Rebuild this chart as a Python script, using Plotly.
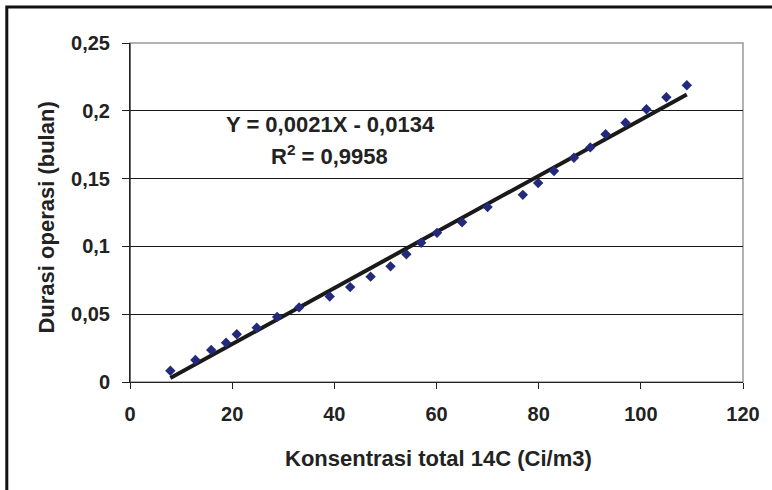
import numpy as np
import plotly.graph_objects as go

x_vals = [7.9, 12.8, 15.9, 18.8, 20.9, 24.8, 28.8, 33.1, 39.1, 43.1, 47.1, 51.0,
          54.1, 57.0, 60.1, 65.0, 70.0, 76.9, 79.9, 83.0, 86.9, 90.1, 93.1, 97.0,
          101.1, 105.0, 109.0]
y_vals = [0.0083, 0.0162, 0.0236, 0.029, 0.0352, 0.040, 0.048, 0.055, 0.063, 0.070,
          0.0777, 0.0853, 0.0942, 0.1027, 0.110, 0.1178, 0.129, 0.138, 0.1468, 0.1556,
          0.1654, 0.173, 0.1827, 0.1912, 0.2011, 0.210, 0.2188]
x_ticks = [0, 20, 40, 60, 80, 100, 120]
x_ticklabels = ["0", "20", "40", "60", "80", "100", "120"]
y_ticks = [0, 0.05, 0.1, 0.15, 0.2, 0.25]
y_ticklabels = ["0", "0,05", "0,1", "0,15", "0,2", "0,25"]
x_title = "Konsentrasi total 14C (Ci/m3)"
y_title = "Durasi operasi (bulan)"
eq_text = "Y = 0,0021X - 0,0134"
r2_text = "R<sup>2</sup> = 0,9958"

slope, intercept = np.polyfit(x_vals, y_vals, 1)
trend_x = [min(x_vals), max(x_vals)]
trend_y = [slope * v + intercept for v in trend_x]

FONT = "Liberation Sans, Arial, sans-serif"
TXT = "#222222"

# plot area in page pixels
L, R, T, B = 130, 747, 43, 382
W, H = 772, 490


def px(xp):
    return (xp - L) / (R - L)


def py(yp):
    return (B - yp) / (B - T)


fig = go.Figure()
fig.add_trace(go.Scatter(x=trend_x, y=trend_y, mode="lines",
                         line=dict(color="#1a1a1a", width=4), showlegend=False))
fig.add_trace(go.Scatter(x=x_vals, y=y_vals, mode="markers",
                         marker=dict(symbol="diamond", size=8, color="#232a7c"),
                         showlegend=False))

fig.update_layout(
    width=W, height=H,
    margin=dict(l=L, r=W - R, t=T, b=H - B),
    paper_bgcolor="white", plot_bgcolor="white",
    font=dict(family=FONT, color=TXT),
    xaxis=dict(range=[0, 120], tickvals=x_ticks, ticktext=x_ticklabels,
               showgrid=False, zeroline=False, showline=True, linecolor=TXT,
               linewidth=1, ticks="outside", ticklen=6, tickcolor=TXT,
               ticklabelstandoff=8,
               tickfont=dict(size=20, family=FONT, color=TXT, weight="bold")),
    yaxis=dict(range=[0, 0.25], tickvals=y_ticks, ticktext=y_ticklabels,
               showgrid=True, gridcolor="#1a1a1a", gridwidth=1, zeroline=False,
               showline=True, linecolor=TXT, linewidth=1,
               ticks="outside", ticklen=7, tickcolor=TXT,
               ticklabelstandoff=8,
               tickfont=dict(size=20, family=FONT, color=TXT, weight="bold")),
    shapes=[
        dict(type="rect", xref="paper", yref="paper", x0=0, y0=0, x1=1, y1=1,
             line=dict(color="#999999", width=1.5), layer="below"),
        dict(type="line", xref="paper", yref="paper", x0=0, y0=0, x1=0, y1=1,
             line=dict(color=TXT, width=1), layer="above"),
        dict(type="rect", xref="paper", yref="paper", x0=px(6), y0=py(520), x1=px(800), y1=py(7),
             line=dict(color="#111111", width=3), layer="above"),
    ],
    annotations=[
        dict(xref="paper", yref="paper", x=px(332), y=py(124),
             text="<b>" + eq_text + "</b>", showarrow=False,
             font=dict(size=22, family=FONT, color=TXT), xanchor="center", yanchor="middle"),
        dict(xref="paper", yref="paper", x=px(331), y=py(155),
             text="<b>" + r2_text + "</b>", showarrow=False,
             font=dict(size=22, family=FONT, color=TXT), xanchor="center", yanchor="middle"),
        dict(xref="paper", yref="paper", x=px(441), y=py(458),
             text="<b>" + x_title + "</b>", showarrow=False,
             font=dict(size=22, family=FONT, color=TXT), xanchor="center", yanchor="middle"),
        dict(xref="paper", yref="paper", x=px(45), y=py(218),
             text="<b>" + y_title + "</b>", showarrow=False, textangle=-90,
             font=dict(size=22, family=FONT, color=TXT), xanchor="center", yanchor="middle"),
    ],
)

fig.write_html("out.html", config={"displayModeBar": False},
               post_script="document.body.style.margin='0';")
